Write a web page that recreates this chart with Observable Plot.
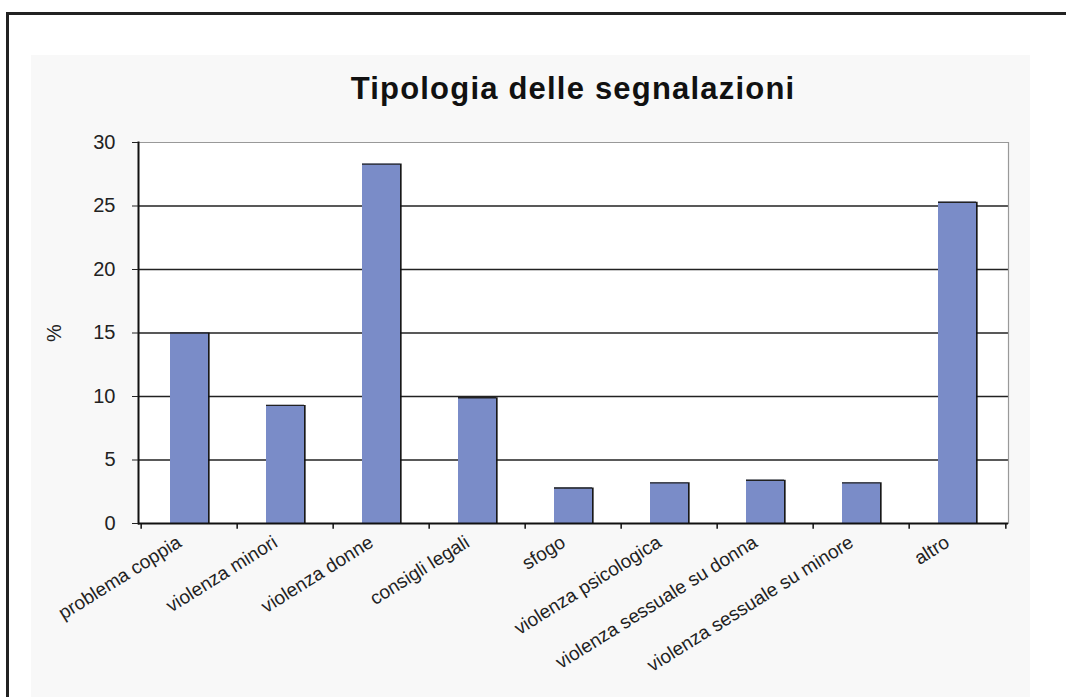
<!DOCTYPE html>
<html><head><meta charset="utf-8">
<script src="https://cdn.jsdelivr.net/npm/d3@7"></script>
<script src="https://cdn.jsdelivr.net/npm/@observablehq/plot@0.6"></script>
<style>
body{margin:0;background:#fff;font-family:"Liberation Sans",Arial,sans-serif;}
#wrap{position:relative;width:1066px;height:697px;overflow:hidden;}
#frame{position:absolute;left:6px;top:12px;width:1080px;height:700px;border-top:3px solid #222;border-left:3px solid #222;}
#panel{position:absolute;left:31px;top:55px;width:999px;height:660px;background:#f8f8f8;}
#title{position:absolute;left:0;width:1146px;top:71px;text-align:center;font-weight:bold;font-size:31px;color:#111;letter-spacing:1.2px;}
#chart{position:absolute;left:0;top:120px;}
</style></head>
<body>
<div id="wrap">
  <div id="frame"></div>
  <div id="panel"></div>
  <div id="title">Tipologia delle segnalazioni</div>
  <div id="chart"></div>
</div>
<script>
const categories = ["problema coppia","violenza minori","violenza donne","consigli legali","sfogo","violenza psicologica","violenza sessuale su donna","violenza sessuale su minore","altro"];
const values = [15, 9.3, 28.3, 9.9, 2.8, 3.2, 3.4, 3.2, 25.3];
const yTicks = [0, 5, 10, 15, 20, 25, 30];
const gridLines = [5, 10, 15, 20, 25];
const yLabel = "%";

const W = 1066, H = 577, ML = 138, MR = 58, MT = 22, MB = 174;
const step = (W - ML - MR) / categories.length;
const bw = step * 0.4;
const data = categories.map((c, i) => ({c, v: values[i]}));

const chart = Plot.plot({
  width: W, height: H,
  marginLeft: ML, marginRight: MR, marginTop: MT, marginBottom: MB,
  style: {background: "transparent", fontFamily: "Liberation Sans, Arial, sans-serif", color: "#222"},
  x: {domain: categories, paddingInner: 0.6, paddingOuter: 0.3},
  y: {domain: [0, 30]},
  marks: [
    Plot.frame({fill: "white", stroke: null}),
    Plot.ruleY(gridLines, {stroke: "#222", strokeWidth: 1.6}),
    Plot.ruleY([30], {stroke: "#999", strokeWidth: 1.2}),
    Plot.frame({anchor: "right", stroke: "#999", strokeWidth: 1.2}),
    Plot.barY(data, {x: "c", y: "v", fill: "#7a8cc8"}),
    Plot.ruleX(data, {x: "c", y1: 0, y2: "v", dx: bw / 2, stroke: "#111", strokeWidth: 1.6}),
    Plot.tickY(data, {x: "c", y: "v", stroke: "#222", strokeWidth: 1.4}),
    Plot.frame({anchor: "left", stroke: "#111", strokeWidth: 2}),
    Plot.ruleY([0], {stroke: "#111", strokeWidth: 2}),
    Plot.ruleX(categories, {x: d => d, dx: -step / 2, y1: 0, y2: -0.45, stroke: "#111", strokeWidth: 1.5}),
    Plot.ruleX([categories[categories.length - 1]], {x: d => d, dx: step / 2, y1: 0, y2: -0.45, stroke: "#111", strokeWidth: 1.5}),
    Plot.axisY({ticks: yTicks, tickSize: 6, tickPadding: 17, fontSize: 20, label: yLabel, labelAnchor: "center", labelOffset: 92, labelArrow: "none", tickFormat: d => String(d)}),
    Plot.axisX({tickSize: 0, tickRotate: -32, fontSize: 19, tickPadding: 17, label: null, dx: -10})
  ]
});
document.getElementById("chart").appendChild(chart);
</script>
</body></html>
